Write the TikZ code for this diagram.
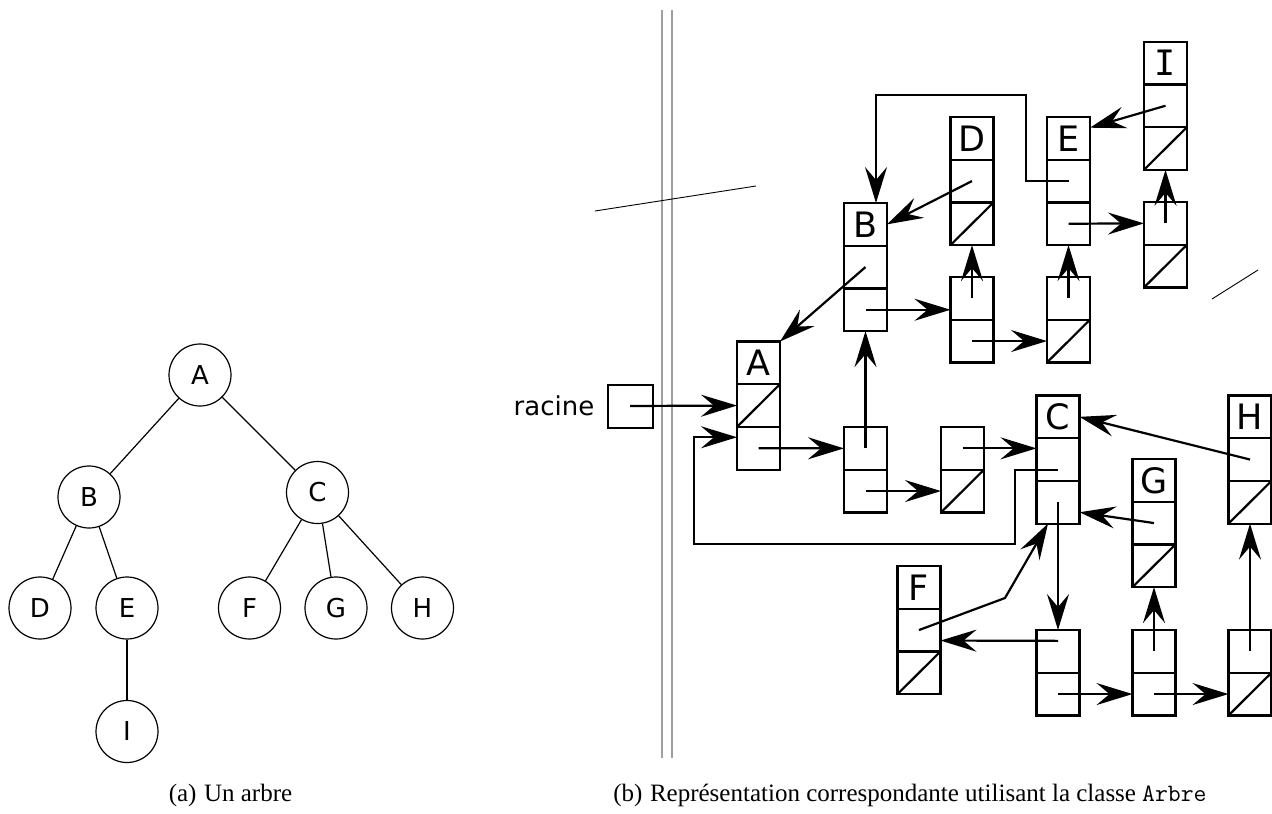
\documentclass[tikz,border=0pt]{standalone}
\usepackage{fontspec}
\setmainfont{Liberation Serif}
\newfontfamily\sansdv{DejaVu Sans}
\newfontfamily\monodv{DejaVu Sans Mono}
\usepackage{tikz}
\usetikzlibrary{arrows.meta,positioning,calc}
\tikzset{>=latex}
\tikzset{
    cellule/.style={draw, line width=2.2pt, minimum width=43pt, minimum height=42.7pt,
        inner sep=0pt, outer sep=0pt, font=\sansdv\fontsize{35}{35}\selectfont},
    rond/.style={draw, circle, line width=1.2pt, minimum size=62pt, inner sep=0pt,
        font=\sansdv\fontsize{26}{26}\selectfont},
    fleche/.style={line width=2.2pt, -{Stealth[length=36pt,width=22pt,inset=13pt]}},
    legende/.style={anchor=base, font=\fontsize{25}{30}\selectfont}
}
% un noeud de l'arbre : etiquette + deux pointeurs
\newcommand{\noeud}[4]{%
    \node[cellule,anchor=north] (#10) at (#2,#3) {#4};
    \node[cellule,below=0pt of #10] (#11) {};
    \node[cellule,below=0pt of #11] (#12) {};
}
% un maillon de liste
\newcommand{\maillon}[3]{%
    \node[cellule,anchor=north] (#1a) at (#2,#3) {};
    \node[cellule,below=0pt of #1a] (#1b) {};
}
\begin{document}
\begin{tikzpicture}[x=1pt,y=-1pt]
    \useasboundingbox (0,0) rectangle (1272,814);

    % (a) l'arbre
    \node[rond] (nA) at (200,375) {A};
    \node[rond] (nB) at (89,497) {B};
    \node[rond] (nC) at (317.5,492.5) {C};
    \node[rond] (nD) at (40,608) {D};
    \node[rond] (nE) at (127,608) {E};
    \node[rond] (nF) at (249.5,608) {F};
    \node[rond] (nG) at (336,608) {G};
    \node[rond] (nH) at (422.5,608) {H};
    \node[rond] (nI) at (127,731.5) {I};
    \foreach \p/\f in {nA/nB,nA/nC,nB/nD,nB/nE,nE/nI,nC/nF,nC/nG,nC/nH}
        \draw[line width=1.2pt] (\p) -- (\f);

    % separation
    \coordinate (sepH) at (662,10);
    \coordinate (sepB) at (662,758);
    \draw[gray!75,line width=1.6pt] (sepH) -- (sepB) ([xshift=10pt]sepH) -- ([xshift=10pt]sepB);
    \draw[line width=0.9pt] (595,211) -- (756,186);
    \draw[line width=0.9pt] (1212,299) -- (1258,270);

    % (b) les noeuds
    \noeud{A}{758.5}{341.5}{A}
    \noeud{B}{865.5}{203}{B}
    \noeud{D}{972}{117}{D}
    \noeud{E}{1068.5}{117}{E}
    \noeud{I}{1165.5}{41.7}{\monodv I}
    \noeud{C}{1058}{395.5}{C}
    \noeud{G}{1154}{459}{G}
    \noeud{H}{1250}{395.5}{H}
    \noeud{F}{919}{566}{F}
    % les listes de fils
    \maillon{LA1}{865.5}{427}
    \maillon{LA2}{962.5}{427}
    \maillon{LB1}{972}{277}
    \maillon{LB2}{1068.5}{277}
    \maillon{LE1}{1165.5}{202}
    \maillon{LC1}{1058}{630}
    \maillon{LC2}{1154}{630}
    \maillon{LC3}{1250}{630}
    \foreach \c in {A1,D2,I2,G2,H2,F2,LA2b,LB2b,LE1b,LC3b}
        \draw[line width=2.2pt] (\c.south west) -- (\c.north east);

    \node[draw,line width=2pt,minimum width=45pt,minimum height=43pt] (rac) at (630,406) {};
    \node[left=12pt of rac,inner sep=0pt,font=\sansdv\fontsize{26}{26}\selectfont] (racTxt) {racine};

    % pointeurs
    \draw[fleche] (rac.center) -- (A1.west);
    \draw[fleche] (A2.center) -- (LA1a.west);
    \draw[fleche] (LA1a.center) -- (B2.south);
    \draw[fleche] (LA1b.center) -- (LA2b.west);
    \draw[fleche] (LA2a.center) -- (LA2a.center -| C1.west);
    \coordinate (coinC) at (1015,544);
    \coordinate (coinA) at (694,544);
    \draw[fleche] ($(C1.center)+(0,10.5)$) -| (coinC) -- (coinA) |- ($(A2.west)+(0,-11)$);
    \draw[fleche] (B1.center) -- (A0.north east);
    \draw[fleche] (B2.center) -- (B2.center -| LB1a.west);
    \draw[fleche] (D1.center) -- (B0.east);
    \coordinate (hautE) at (1026,95);
    \draw[fleche] (E1.center) -| (hautE) -| ($(B0.north)+(10.5,0)$);
    \draw[fleche] (E2.center) -- (LE1a.west);
    \draw[fleche] (I1.center) -- ($(E0.north east)+(0,10.7)$);
    \draw[fleche] (LB1a.center) -- (D2.south);
    \draw[fleche] (LB1b.center) -- (LB2b.west);
    \draw[fleche] (LB2a.center) -- (E2.south);
    \draw[fleche] (LE1a.center) -- (I2.south);
    \draw[fleche] (C2.center) -- (LC1a.north);
    \draw[fleche] (H1.center) -- (C0.east);
    \draw[fleche] (G1.center) -- ($(C2.east)+(0,10)$);
    \coordinate (coudeF) at (1005,598);
    \draw[fleche] (F1.center) -- (coudeF) -- ($(C2.south)+(-10,0)$);
    \draw[fleche] ($(LC1a.center)+(0,-10.5)$) -- ($(F1.east)+(0,10.5)$);
    \draw[fleche] (LC1b.center) -- (LC2b.west);
    \draw[fleche] (LC2a.center) -- (G2.south);
    \draw[fleche] (LC2b.center) -- (LC3b.west);
    \draw[fleche] (LC3a.center) -- (H2.south);

    % legendes
    \node[legende] (legA) at (230.5,801) {(a)\hspace{.3em}Un arbre};
    \node[legende] (legB) at (910,801) {(b)\hspace{.3em}Représentation correspondante utilisant la classe \texttt{Arbre}};
\end{tikzpicture}
\end{document}
